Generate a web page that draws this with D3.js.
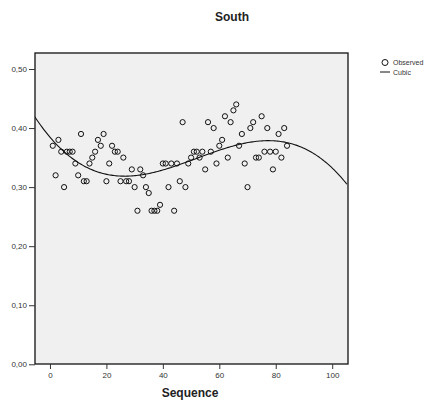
<!DOCTYPE html>
<html>
<head>
<meta charset="utf-8">
<script src="https://cdn.jsdelivr.net/npm/d3@7/dist/d3.min.js"></script>
<style>
  body { margin: 0; background: #fff; }
  text { font-family: "Liberation Sans", Arial, sans-serif; }
</style>
</head>
<body>
<svg id="chart" width="431" height="405"></svg>
<script>
const title = "South";
const xLabel = "Sequence";
const sequence = d3.range(1, 85);
const observed = [
  0.37, 0.32, 0.38, 0.36, 0.30, 0.36, 0.36, 0.36, 0.34, 0.32,
  0.39, 0.31, 0.31, 0.34, 0.35, 0.36, 0.38, 0.37, 0.39, 0.31,
  0.34, 0.37, 0.36, 0.36, 0.31, 0.35, 0.31, 0.31, 0.33, 0.30,
  0.26, 0.33, 0.32, 0.30, 0.29, 0.26, 0.26, 0.26, 0.27, 0.34,
  0.34, 0.30, 0.34, 0.26, 0.34, 0.31, 0.41, 0.30, 0.34, 0.35,
  0.36, 0.36, 0.35, 0.36, 0.33, 0.41, 0.36, 0.40, 0.34, 0.37,
  0.38, 0.42, 0.35, 0.41, 0.43, 0.44, 0.37, 0.39, 0.34, 0.30,
  0.40, 0.41, 0.35, 0.35, 0.42, 0.36, 0.40, 0.36, 0.33, 0.36,
  0.39, 0.35, 0.40, 0.37
];
const xTicks = [0, 20, 40, 60, 80, 100];
const yTicks = [0, 0.1, 0.2, 0.3, 0.4, 0.5];
const legendItems = ["Observed", "Cubic"];

const svg = d3.select("#chart");
const plotL = 35, plotR = 348, plotT = 53, plotB = 364;

const x = d3.scaleLinear().domain([-5.3, 105.6]).range([plotL, plotR]);
const y = d3.scaleLinear().domain([0, 0.5]).range([364.3, 69]);

// least squares cubic fit, x centred for conditioning
function cubicFit(xs, ys) {
  const m = d3.mean(xs);
  const A = [[0,0,0,0],[0,0,0,0],[0,0,0,0],[0,0,0,0]];
  const b = [0,0,0,0];
  xs.forEach((xv, i) => {
    const t = xv - m;
    const p = [1, t, t*t, t*t*t];
    for (let r = 0; r < 4; r++) {
      b[r] += p[r] * ys[i];
      for (let c = 0; c < 4; c++) A[r][c] += p[r] * p[c];
    }
  });
  for (let k = 0; k < 4; k++) {
    for (let r = k + 1; r < 4; r++) {
      const f = A[r][k] / A[k][k];
      for (let c = k; c < 4; c++) A[r][c] -= f * A[k][c];
      b[r] -= f * b[k];
    }
  }
  const co = [0,0,0,0];
  for (let r = 3; r >= 0; r--) {
    let s = b[r];
    for (let c = r + 1; c < 4; c++) s -= A[r][c] * co[c];
    co[r] = s / A[r][r];
  }
  return xv => { const t = xv - m; return co[0] + co[1]*t + co[2]*t*t + co[3]*t*t*t; };
}
const fit = cubicFit(sequence, observed);

// title
svg.append("text")
  .attr("x", 232).attr("y", 21)
  .attr("text-anchor", "middle")
  .attr("font-size", 12).attr("font-weight", "bold")
  .attr("fill", "#222")
  .text(title);

// plot background
svg.append("rect")
  .attr("x", plotL).attr("y", plotT)
  .attr("width", plotR - plotL).attr("height", plotB - plotT)
  .attr("fill", "#f0f0f0");

svg.append("clipPath").attr("id", "plotclip")
  .append("rect")
  .attr("x", plotL).attr("y", plotT)
  .attr("width", plotR - plotL).attr("height", plotB - plotT);

// cubic curve
const curveX = d3.range(-5.3, 105.7, 0.5);
svg.append("path")
  .datum(curveX)
  .attr("clip-path", "url(#plotclip)")
  .attr("fill", "none")
  .attr("stroke", "#111")
  .attr("stroke-width", 1.1)
  .attr("d", d3.line().x(d => x(d)).y(d => y(fit(d))));

// observed points
svg.append("g")
  .selectAll("circle")
  .data(sequence)
  .join("circle")
  .attr("cx", d => x(d))
  .attr("cy", (d, i) => y(observed[i]))
  .attr("r", 2.6)
  .attr("fill", "none")
  .attr("stroke", "#111")
  .attr("stroke-width", 1);

// frame
svg.append("rect")
  .attr("x", plotL).attr("y", plotT)
  .attr("width", plotR - plotL).attr("height", plotB - plotT)
  .attr("fill", "none")
  .attr("stroke", "#111")
  .attr("stroke-width", 1.3);

const fmt = v => d3.format(".2f")(v).replace(".", ",");

// y axis
const yAxis = svg.append("g")
  .attr("transform", `translate(${plotL},0)`)
  .call(d3.axisLeft(y).tickValues(yTicks).tickFormat(fmt).tickSize(6).tickPadding(2));
yAxis.select(".domain").remove();
yAxis.selectAll("line").attr("stroke", "#333");
yAxis.selectAll("text").attr("font-size", 8).attr("fill", "#333")
  .style("font-family", "'Liberation Sans', Arial, sans-serif");

// x axis
const xAxis = svg.append("g")
  .attr("transform", `translate(0,${plotB})`)
  .call(d3.axisBottom(x).tickValues(xTicks).tickFormat(d3.format("d")).tickSize(5).tickPadding(3));
xAxis.select(".domain").remove();
xAxis.selectAll("line").attr("stroke", "#333");
xAxis.selectAll("text").attr("font-size", 8).attr("fill", "#333")
  .style("font-family", "'Liberation Sans', Arial, sans-serif");

svg.append("text")
  .attr("x", 190).attr("y", 397)
  .attr("text-anchor", "middle")
  .attr("font-size", 12).attr("font-weight", "bold")
  .attr("fill", "#222")
  .text(xLabel);

// legend
const legend = svg.append("g");
legend.append("circle")
  .attr("cx", 385).attr("cy", 62.5).attr("r", 3)
  .attr("fill", "none").attr("stroke", "#111");
legend.append("line")
  .attr("x1", 380).attr("x2", 390).attr("y1", 72).attr("y2", 72)
  .attr("stroke", "#111");
legend.selectAll("text.leg")
  .data(legendItems)
  .join("text")
  .attr("class", "leg")
  .attr("x", 393)
  .attr("y", (d, i) => 65 + i * 9.5)
  .attr("font-size", 7)
  .attr("fill", "#333")
  .text(d => d);
</script>
</body>
</html>
